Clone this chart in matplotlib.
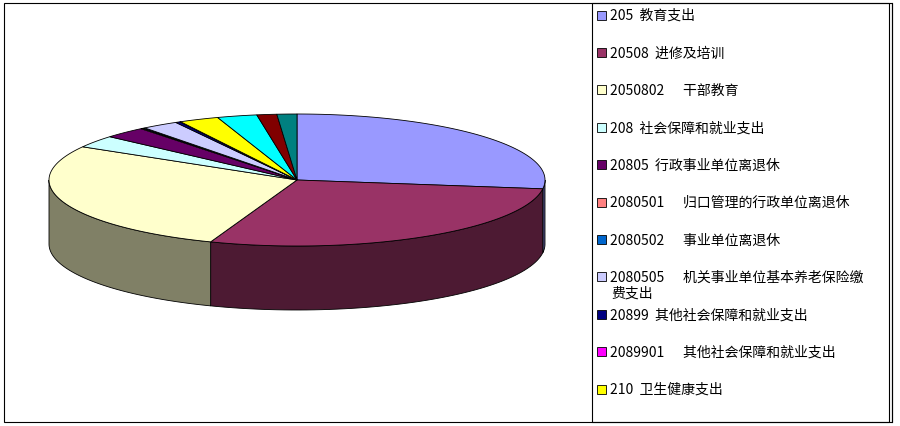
import matplotlib.pyplot as plt
import numpy as np
from matplotlib.patches import Polygon, Rectangle

plt.rcParams['font.family'] = ['Noto Sans CJK SC', 'DejaVu Sans']

labels = ['205  教育支出', '20508  进修及培训', '2050802      干部教育', '208  社会保障和就业支出',
          '20805  行政事业单位离退休', '2080501      归口管理的行政单位离退休', '2080502      事业单位离退休',
          '2080505      机关事业单位基本养老保险缴\n费支出', '20899  其他社会保障和就业支出',
          '2089901      其他社会保障和就业支出', '210  卫生健康支出', '', '', '']
values = [27.2, 28.6, 27.8, 3.0, 2.8, 0.15, 0.15, 2.4, 0.3, 0.05, 2.6, 2.6, 1.3, 1.3]
colors = ['#9999FF', '#993366', '#FFFFCC', '#CCFFFF', '#660066', '#FF8080', '#0066CC',
          '#CCCCFF', '#000080', '#FF00FF', '#FFFF00', '#00FFFF', '#800000', '#008080']
side_colors = {'#9999FF': '#4D4D80', '#993366': '#4D1A33', '#FFFFCC': '#808066'}

fig = plt.figure(figsize=(9, 4.27), dpi=100)
ax = fig.add_axes([0, 0, 1, 1])
ax.set_xlim(0, 900)
ax.set_ylim(427, 0)
ax.axis('off')

cx, cy, rx, ry, depth = 297, 181, 248, 66, 64

def darker(c):
    if c in side_colors:
        return side_colors[c]
    r, g, b = [int(c[i:i + 2], 16) for i in (1, 3, 5)]
    return '#%02x%02x%02x' % (r // 2, g // 2, b // 2)

frac = np.array(values) / sum(values)
starts = 90 - np.concatenate([[0], np.cumsum(frac)[:-1]]) * 360
ends = starts - frac * 360

# side walls, front half only (angles 0 .. -180, and wrap -180 .. -270 is back)
for s, e, c in zip(starts, ends, colors):
    a0, a1 = max(e, -180), min(s, 0)
    if a1 <= a0:
        continue
    t = np.radians(np.linspace(a0, a1, 60))
    xs = cx + rx * np.cos(t)
    ys = cy - ry * np.sin(t)
    pts = np.column_stack([np.r_[xs, xs[::-1]], np.r_[ys, ys[::-1] + depth]])
    ax.add_patch(Polygon(pts, closed=True, fc=darker(c), ec='black', lw=0.6))

# top faces
for s, e, c in zip(starts, ends, colors):
    t = np.radians(np.linspace(s, e, max(int(abs(s - e)), 2) + 2))
    xs = np.r_[cx, cx + rx * np.cos(t)]
    ys = np.r_[cy, cy - ry * np.sin(t)]
    ax.add_patch(Polygon(np.column_stack([xs, ys]), closed=True, fc=c, ec='black', lw=0.6))

# frames
ax.add_patch(Rectangle((4, 4), 888, 419, fill=False, ec='black', lw=0.8))
ax.add_patch(Rectangle((592, 4), 297, 419, fill=False, ec='black', lw=0.8))
ax.plot([892, 892], [4, 423], color='black', lw=0.8)

# legend
ys = [16 + 37.4 * i for i in range(11)]
for y, lab, c in zip(ys, labels[:11], colors[:11]):
    ax.add_patch(Rectangle((597, y - 4.5), 9, 9, fc=c, ec='black', lw=0.6))
    if '\n' in lab:
        first, second = lab.split('\n')
        ax.text(610, y, first, fontsize=10, va='center')
        ax.text(611, y + 16, second, fontsize=10, va='center')
    else:
        ax.text(610, y, lab, fontsize=10, va='center')

fig.savefig('out.png', dpi=100)
